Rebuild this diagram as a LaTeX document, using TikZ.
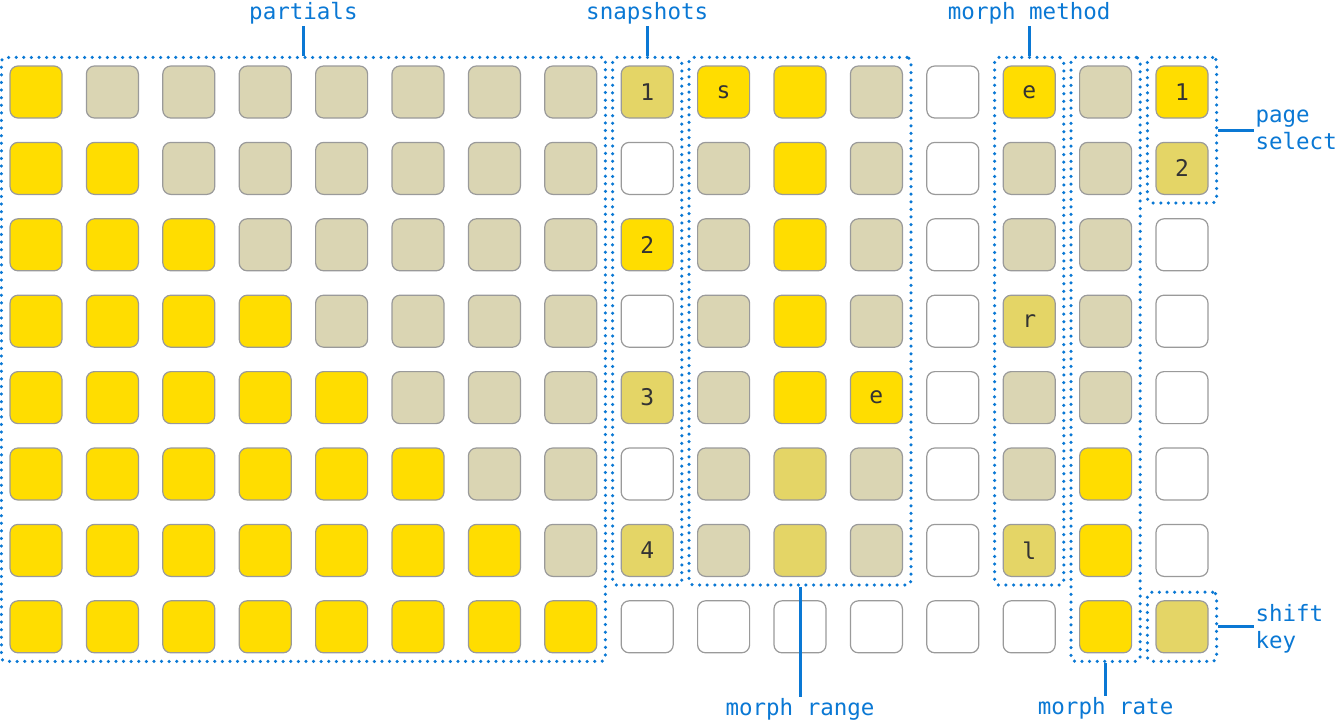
\documentclass[tikz,border=0pt]{standalone}
\usepackage{fontspec}
\setmonofont{DejaVu Sans Mono}
\usetikzlibrary{positioning,fit}

\definecolor{padY}{HTML}{FFDD00}
\definecolor{padK}{HTML}{DAD5B3}
\definecolor{padD}{HTML}{E4D566}
\definecolor{padW}{HTML}{FFFFFF}
\definecolor{padedge}{HTML}{9A9A9A}
\definecolor{guide}{HTML}{0A78D4}

\tikzset{
	pad/.style={draw=padedge, line width=1.2pt, rounded corners=8pt, minimum size=52pt, inner sep=0pt},
	padtxt/.style={font=\ttfamily\fontsize{23}{23}\selectfont, text=black!80, inner sep=0pt},
	grp/.style={draw=guide, line width=3.5pt, dash pattern=on 0pt off 7.6pt, line cap=round, rounded corners=4pt, inner sep=8pt},
	lead/.style={draw=guide, line width=3pt},
	lbl/.style={font=\ttfamily\fontsize{22.5}{27}\selectfont, text=guide, inner sep=1pt, align=left},
}

\begin{document}
\begin{tikzpicture}[x=1pt,y=-1pt]

	\useasboundingbox (0,0) rectangle (1339,721);

	% Pads
	\foreach \row [count=\j from 0] in {
		{Y,K,K,K,K,K,K,K,D,Y,Y,K,W,Y,K,Y},
		{Y,Y,K,K,K,K,K,K,W,K,Y,K,W,K,K,D},
		{Y,Y,Y,K,K,K,K,K,Y,K,Y,K,W,K,K,W},
		{Y,Y,Y,Y,K,K,K,K,W,K,Y,K,W,D,K,W},
		{Y,Y,Y,Y,Y,K,K,K,D,K,Y,Y,W,K,K,W},
		{Y,Y,Y,Y,Y,Y,K,K,W,K,D,K,W,K,Y,W},
		{Y,Y,Y,Y,Y,Y,Y,K,D,K,D,K,W,D,Y,W},
		{Y,Y,Y,Y,Y,Y,Y,Y,W,W,W,W,W,W,Y,D}}
		\foreach \c [count=\i from 0] in \row
			\node[pad, fill=pad\c] (c\i-\j) at ({36+76.4*\i},{92+76.4*\j}) {};

	\foreach \p/\t [count=\k] in {c8-0/1, c8-2/2, c8-4/3, c8-6/4, c9-0/s, c11-4/e,
		c13-0/e, c13-3/r, c13-6/l, c15-0/1, c15-1/2}
		\node[padtxt] (t\k) at (\p) {\t};

	% Groups
	\node[grp, fit=(c0-0)(c7-7)] (partials) {};
	\node[grp, fit=(c8-0)(c8-6)] (snapshots) {};
	\node[grp, fit=(c9-0)(c11-6)] (range) {};
	\node[grp, fit=(c13-0)(c13-6)] (method) {};
	\node[grp, fit=(c14-0)(c14-7)] (rate) {};
	\node[grp, fit=(c15-0)(c15-1)] (page) {};
	\node[grp, fit=(c15-7)] (shift) {};

	% Labels
	\node[lbl, above=30pt of partials.north] (lpartials) {partials};
	\node[lbl, above=30pt of snapshots.north] (lsnapshots) {snapshots};
	\node[lbl, above=30pt of method.north] (lmethod) {morph method};
	\node[lbl, right=36pt of page.east] (lpage) {page\\select};
	\node[lbl, right=36pt of shift.east, yshift=-2pt] (lshift) {shift\\key};
	\node[lbl, below=110pt of range.south] (lrange) {morph range};
	\node[lbl, below=33pt of rate.south] (lrate) {morph rate};

	\draw[lead] (partials.north) -- (lpartials);
	\draw[lead] (snapshots.north) -- (lsnapshots);
	\draw[lead] (method.north) -- (lmethod);
	\draw[lead] (page.east) -- (lpage.west);
	\draw[lead] (shift.east) -- (shift.east -| lshift.west);
	\draw[lead] (range.south) -- (lrange);
	\draw[lead] (rate.south) -- (lrate);

\end{tikzpicture}
\end{document}
